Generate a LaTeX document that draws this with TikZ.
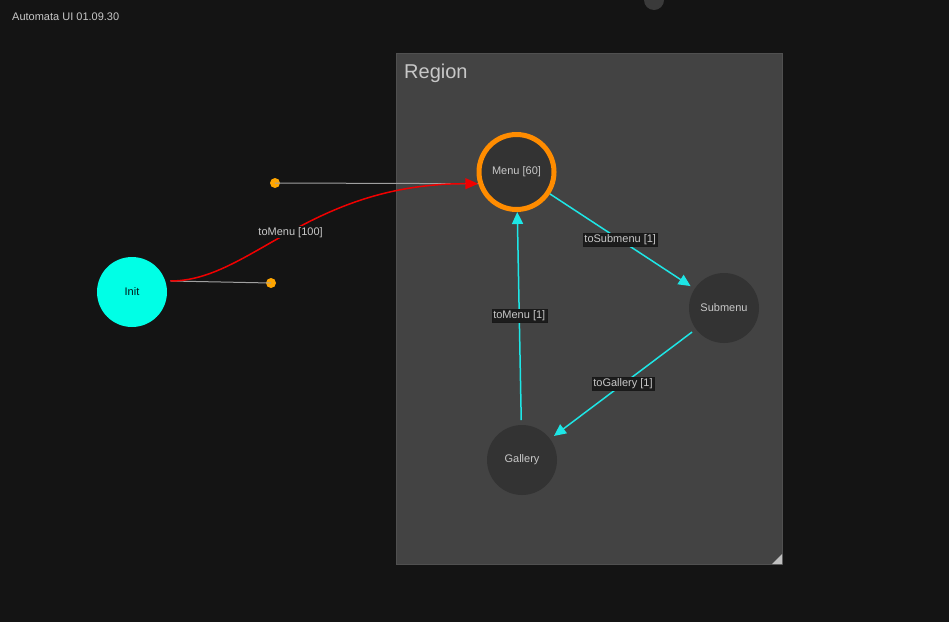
\documentclass[tikz,border=0pt]{standalone}
\usepackage{fontspec}
\setmainfont{Liberation Sans}
\usetikzlibrary{arrows.meta}
\definecolor{bgc}{HTML}{141414}
\definecolor{regc}{HTML}{434343}
\definecolor{regborder}{HTML}{505050}
\definecolor{statec}{HTML}{333333}
\definecolor{orangec}{HTML}{FF8C00}
\definecolor{dotc}{HTML}{FFA500}
\definecolor{cyanc}{HTML}{00FFE6}
\definecolor{edgec}{HTML}{1EE6E6}
\definecolor{txtc}{HTML}{C8C8C8}
\definecolor{lblbg}{HTML}{1C1C1C}
\definecolor{greyline}{HTML}{A0A0A0}
\definecolor{redc}{HTML}{F00000}
\definecolor{topc}{HTML}{3A3A3A}
\definecolor{gripc}{HTML}{C0C0C0}
\tikzset{
  state/.style={circle, fill=statec, minimum size=70pt, inner sep=0pt, outer sep=5pt,
    text=txtc, font=\fontsize{11}{13}\selectfont},
  activestate/.style={circle, fill=statec, draw=orangec, line width=5pt, minimum size=75pt,
    inner sep=0pt, text=txtc, font=\fontsize{11}{13}\selectfont},
  initstate/.style={circle, fill=cyanc, minimum size=70pt, inner sep=0pt, outer sep=5pt,
    text=black!80!teal, font=\fontsize{11}{13}\selectfont},
  handle/.style={circle, fill=dotc, minimum size=10pt, inner sep=0pt},
  trans/.style={draw=edgec, line width=1.5pt, -{Triangle[length=12pt,width=11pt]}},
  tlabel/.style={fill=lblbg, draw=black!90, line width=0.4pt, text=txtc, inner sep=1.5pt,
    font=\fontsize{11}{13}\selectfont},
  plainlabel/.style={fill=bgc, text=txtc, inner sep=1pt, font=\fontsize{11}{13}\selectfont},
}
\begin{document}
\begin{tikzpicture}[x=1pt, y=-1pt]
  % canvas
  \fill[bgc] (0,0) rectangle (949,622);
  \useasboundingbox (0,0) rectangle (949,622);
  % top partial circle
  \fill[topc] (654,0) circle (10);
  % title
  \node[anchor=base west, inner sep=0pt, text=txtc, font=\fontsize{11}{13}\selectfont] (title) at (12,20) {Automata UI 01.09.30};
  % region
  \draw[fill=regc, draw=regborder, line width=1pt] (396,53) rectangle (782,564);
  \node[anchor=base west, inner sep=0pt, text=txtc, font=\fontsize{20}{24}\selectfont] (regtitle) at (404,78) {Region};
  \fill[gripc] (772,564) -- (782,564) -- (782,554) -- cycle;
  % states
  \node[activestate] (menu) at (516.5,172) {Menu [60]};
  \node[state] (submenu) at (724,308) {Submenu};
  \node[state] (gallery) at (522,460) {Gallery};
  \node[initstate] (init) at (132,292) {Init};
  % handles
  \node[handle] (d1) at (275,183) {};
  \node[handle] (d2) at (271,283) {};
  % grey handle lines
  \draw[greyline, line width=1pt] (d1.center) -- (menu.197);
  \draw[greyline, line width=1pt] (init.16) -- (d2.center);
  % red initial transition
  \draw[redc, line width=1.5pt, -{Triangle[length=13pt,width=11pt]}]
    (init.16) .. controls +(80,0) and +(-170,0) .. node[plainlabel, midway] (lbl0) {toMenu [100]} (menu.197);
  % transitions
  \draw[trans] (menu) -- node[tlabel, midway] (lbl1) {toSubmenu [1]} (submenu);
  \draw[trans] (submenu) -- node[tlabel, midway] (lbl2) {toGallery [1]} (gallery);
  \draw[trans] (gallery) -- node[tlabel, midway] (lbl3) {toMenu [1]} (menu);
\end{tikzpicture}
\end{document}
